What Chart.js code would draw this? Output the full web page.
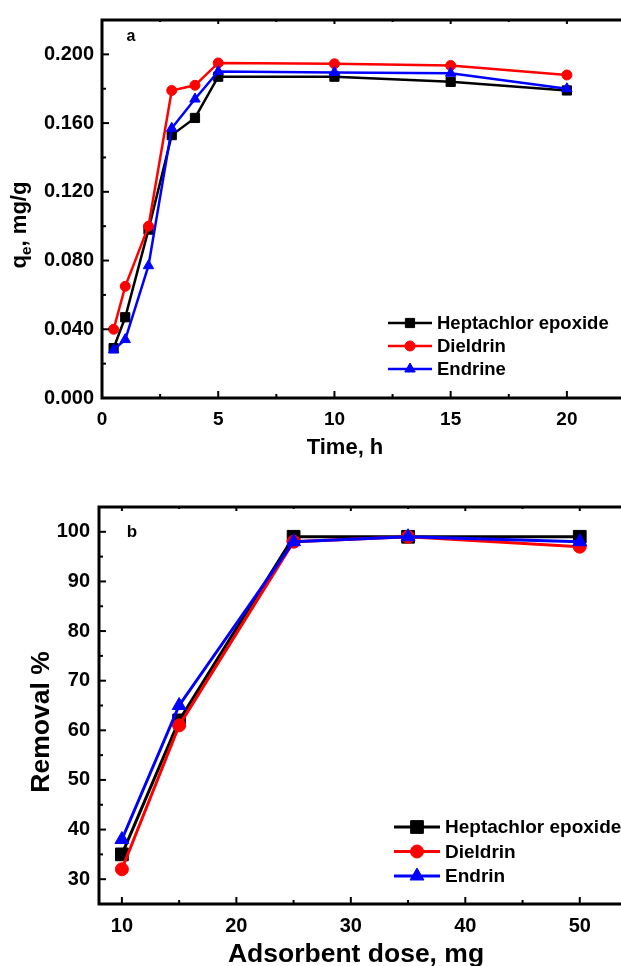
<!DOCTYPE html>
<html>
<head>
<meta charset="utf-8">
<script src="https://cdn.jsdelivr.net/npm/chart.js@4.4.1/dist/chart.umd.min.js"></script>
<style>
  html, body { margin: 0; padding: 0; background: #fff; overflow: hidden; width: 621px; height: 966px; }
  canvas { position: absolute; left: 0; }
  #chartA { top: 0; }
  #chartB { top: 480px; }
</style>
</head>
<body>
<canvas id="chartA" width="640" height="470"></canvas>
<canvas id="chartB" width="660" height="486"></canvas>
<script>
// panel a: contact time
const timeH = [0.5, 1, 2, 3, 4, 5, 10, 15, 20];
const heptachlorA = [0.029, 0.047, 0.098, 0.153, 0.163, 0.187, 0.187, 0.184, 0.179];
const dieldrinA = [0.040, 0.065, 0.100, 0.179, 0.182, 0.195, 0.1945, 0.1935, 0.188];
const endrineA = [0.028, 0.034, 0.077, 0.157, 0.174, 0.190, 0.1895, 0.189, 0.180];
const namesA = ['Heptachlor epoxide', 'Dieldrin', 'Endrine'];
const xTicksA = [0, 5, 10, 15, 20];
const yTicksA = [0, 0.04, 0.08, 0.12, 0.16, 0.2];

// panel b: adsorbent dose
const doseMg = [10, 15, 25, 35, 50];
const heptachlorB = [35, 62, 99, 99, 99];
const dieldrinB = [32, 61, 98, 99, 97];
const endrinB = [38, 65, 98, 99, 98];
const namesB = ['Heptachlor epoxide', 'Dieldrin', 'Endrin'];
const xTicksB = [10, 20, 30, 40, 50];
const yTicksB = [30, 40, 50, 60, 70, 80, 90, 100];

const FONT = "'Liberation Sans', Arial, sans-serif";

function pts(xs, ys) {
  return xs.map((x, i) => ({ x: x, y: ys[i] }));
}

// frame, inward ticks, titles, panel letter and legend
function decor(p) {
  return {
    id: 'decor',
    afterDraw(chart) {
      const ctx = chart.ctx;
      const a = chart.chartArea;
      const sx = chart.scales.x, sy = chart.scales.y;
      ctx.save();
      ctx.strokeStyle = '#000';
      ctx.lineWidth = 3;
      ctx.strokeRect(a.left, a.top, a.right - a.left, a.bottom - a.top);

      ctx.lineWidth = 2;
      const line = (x1, y1, x2, y2) => { ctx.beginPath(); ctx.moveTo(x1, y1); ctx.lineTo(x2, y2); ctx.stroke(); };
      for (let v = Math.ceil(sx.min / p.minorX) * p.minorX; v <= sx.max + 1e-9; v += p.minorX) {
        const px = sx.getPixelForValue(v);
        const major = p.xTicks.some(t => Math.abs(t - v) < 1e-9);
        const len = major ? 7 : 4;
        line(px, a.bottom, px, a.bottom - len);
        line(px, a.top, px, a.top + (major ? 4 : 2));
      }
      for (let v = Math.ceil(sy.min / p.minorY - 1e-9) * p.minorY; v <= sy.max + 1e-9; v += p.minorY) {
        const py = sy.getPixelForValue(v);
        const major = p.yTicks.some(t => Math.abs(t - v) < 1e-9);
        line(a.left, py, a.left + (major ? 7 : 4), py);
      }

      ctx.fillStyle = '#000';
      ctx.textBaseline = 'middle';
      ctx.textAlign = 'center';
      ctx.font = 'bold ' + p.letterSize + 'px ' + FONT;
      ctx.fillText(p.letter, p.letterX, p.letterY);

      ctx.font = 'bold ' + p.titleSize + 'px ' + FONT;
      ctx.fillText(p.xTitle, p.xTitleX, p.xTitleY);

      // y title, rotated, with optional subscript parts
      ctx.save();
      ctx.translate(p.yTitleX, p.yTitleY);
      ctx.rotate(-Math.PI / 2);
      ctx.textAlign = 'left';
      const parts = p.yTitle;
      let w = 0;
      parts.forEach(s => {
        ctx.font = 'bold ' + (s.sub ? p.titleSize * 0.7 : p.titleSize) + 'px ' + FONT;
        w += ctx.measureText(s.t).width;
      });
      let cx = -w / 2;
      parts.forEach(s => {
        const size = s.sub ? p.titleSize * 0.7 : p.titleSize;
        ctx.font = 'bold ' + size + 'px ' + FONT;
        ctx.fillText(s.t, cx, s.sub ? p.titleSize * 0.3 : 0);
        cx += ctx.measureText(s.t).width;
      });
      ctx.restore();

      // legend
      const lg = p.legend;
      chart.data.datasets.forEach((ds, i) => {
        const ly = lg.y + i * lg.dy;
        ctx.strokeStyle = ds.borderColor;
        ctx.lineWidth = ds.borderWidth;
        line(lg.x, ly, lg.x + lg.len, ly);
        ctx.fillStyle = ds.backgroundColor;
        ctx.lineWidth = 1;
        Chart.helpers.drawPoint(ctx, { pointStyle: ds.pointStyle, radius: ds.pointRadius, rotation: 0, borderWidth: 1 }, lg.x + lg.len / 2, ly);
        ctx.fillStyle = '#000';
        ctx.textAlign = 'left';
        ctx.font = 'bold ' + lg.size + 'px ' + FONT;
        ctx.fillText(ds.label, lg.x + lg.len + 5, ly + 1);
      });
      ctx.restore();
    }
  };
}

function series(label, xs, ys, color, style, r, bw, order) {
  return {
    label: label,
    data: pts(xs, ys),
    borderColor: color,
    backgroundColor: color,
    borderWidth: bw,
    pointStyle: style,
    pointRadius: r,
    pointBorderWidth: 1,
    pointHoverRadius: r,
    tension: 0,
    order: order
  };
}

function axis(min, max, ticks, fontSize, pad, fmt, fitSize, isY) {
  return {
    type: 'linear',
    min: min,
    max: max,
    grid: { display: false, drawTicks: false },
    border: { display: false },
    afterBuildTicks: s => { s.ticks = ticks.map(v => ({ value: v })); },
    afterFit: s => { if (isY) s.width = fitSize; else s.height = fitSize; },
    ticks: {
      color: '#000',
      padding: pad,
      maxRotation: 0,
      autoSkip: false,
      font: { family: FONT, size: fontSize, weight: 'bold' },
      callback: fmt
    }
  };
}

new Chart(document.getElementById('chartA'), {
  type: 'line',
  data: {
    datasets: [
      series(namesA[0], timeH, heptachlorA, '#000000', 'rect', 6.5, 2.5, 3),
      series(namesA[1], timeH, dieldrinA, '#ff0000', 'circle', 5, 2.5, 2),
      series(namesA[2], timeH, endrineA, '#0000ff', 'triangle', 6, 2.5, 1)
    ]
  },
  options: {
    responsive: false,
    animation: false,
    events: [],
    layout: { padding: { left: 0, top: 13, right: 15, bottom: 0 } },
    plugins: { legend: { display: false }, tooltip: { enabled: false } },
    scales: {
      x: axis(0, 22.5, xTicksA, 19, 10, v => String(v), 72, false),
      y: axis(0, 0.22, yTicksA, 20, 8, v => v.toFixed(3), 102, true)
    }
  },
  plugins: [decor({
    minorX: 2.5, minorY: 0.02, xTicks: xTicksA, yTicks: yTicksA,
    letter: 'a', letterX: 131, letterY: 37, letterSize: 16,
    xTitle: 'Time, h', xTitleX: 345, xTitleY: 448, titleSize: 22,
    yTitle: [{ t: 'q' }, { t: 'e', sub: true }, { t: ', mg/g' }], yTitleX: 20, yTitleY: 225,
    legend: { x: 388, y: 323, dy: 23, len: 44, size: 18.5 }
  })]
});

new Chart(document.getElementById('chartB'), {
  type: 'line',
  data: {
    datasets: [
      series(namesB[0], doseMg, heptachlorB, '#000000', 'rect', 9, 3, 3),
      series(namesB[1], doseMg, dieldrinB, '#ff0000', 'circle', 6.5, 3, 2),
      series(namesB[2], doseMg, endrinB, '#0000ff', 'triangle', 8, 3, 1)
    ]
  },
  options: {
    responsive: false,
    animation: false,
    events: [],
    layout: { padding: { left: 0, top: 27, right: 23, bottom: 0 } },
    plugins: { legend: { display: false }, tooltip: { enabled: false } },
    scales: {
      x: axis(8, 55, xTicksB, 20, 10, v => String(v), 62, false),
      y: axis(25, 105, yTicksB, 20, 9, v => String(v), 99, true)
    }
  },
  plugins: [decor({
    minorX: 5, minorY: 5, xTicks: xTicksB, yTicks: yTicksB,
    letter: 'b', letterX: 132, letterY: 52, letterSize: 17,
    xTitle: 'Adsorbent dose, mg', xTitleX: 356, xTitleY: 475, titleSize: 26.5,
    yTitle: [{ t: 'Removal %' }], yTitleX: 42, yTitleY: 242,
    legend: { x: 394, y: 347, dy: 24.5, len: 46, size: 19 }
  })]
});
</script>
</body>
</html>
